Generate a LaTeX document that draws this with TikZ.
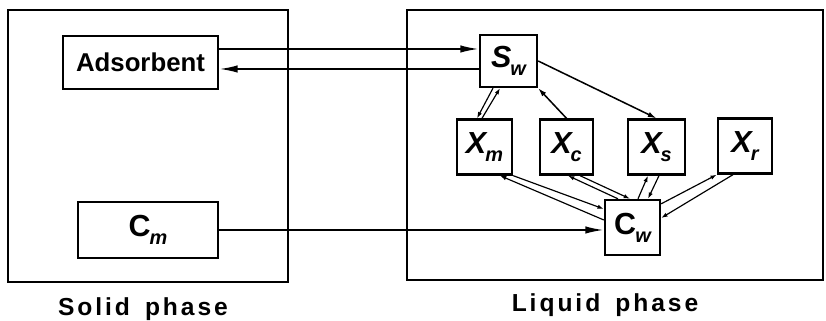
\documentclass[tikz,border=0pt]{standalone}
\usepackage{fontspec}
\setmainfont{Liberation Sans}
\setsansfont{Liberation Sans}
\newfontfamily\phasefont[LetterSpace=12]{Liberation Sans}
\usetikzlibrary{arrows.meta,positioning,calc}
\newcommand{\vsub}[2]{#1\kern-0.03em\raisebox{-0.5ex}{\fontsize{17}{17}\selectfont\itshape #2}}

\begin{document}
\begin{tikzpicture}[x=0.03cm,y=0.03cm,
frame/.style={draw,line width=2.2pt,inner sep=0pt},
box/.style={draw,line width=2pt,inner sep=0pt,font=\fontsize{22}{26}\selectfont\bfseries},
var/.style={box,minimum width=1.65cm,minimum height=1.65cm,font=\fontsize{26}{30}\selectfont\bfseries},
phase/.style={inner sep=0pt,font=\fontsize{21}{25}\selectfont\phasefont\bfseries},
bigarrow/.style={-{Latex[length=5.5mm,width=2.2mm]},line width=1.6pt},
arrow/.style={-{Latex[length=2.6mm,width=1.6mm]},line width=1.3pt},
pair/.style={-{Latex[length=1.9mm,width=1.3mm]},line width=1pt}
]
\useasboundingbox (0,0) rectangle (826,321);
% phases
\node[frame,minimum width=8.4cm,minimum height=8.16cm] (solid) at (148,175) {};
\node[frame,minimum width=12.48cm,minimum height=8.1cm] (liquid) at (615,176) {};
\node[phase,below=0.42cm of solid,xshift=-0.15cm] (solidlbl) {Solid\hspace{0.45cm}phase};
\node[phase,below=0.36cm of liquid,xshift=-0.3cm] (liquidlbl) {Liquid\hspace{0.45cm}phase};
% solid phase
\node[box,minimum width=4.65cm,minimum height=1.59cm] (adsorbent) at (140.5,258.5) {Adsorbent};
\node[box,minimum width=4.2cm,minimum height=1.68cm,font=\fontsize{26}{30}\selectfont\bfseries] (cm) at (148,91) {\vsub{C}{m}};
% liquid phase
\node[var,minimum width=1.71cm,minimum height=1.56cm] (sw) at (508.5,260) {\vsub{\itshape S}{w}};
\node[var] (xm) at (484.5,174) {\vsub{\itshape X}{m}};
\node[var,minimum width=1.59cm] (xc) at (566.5,174) {\vsub{\itshape X}{c}};
\node[var,minimum width=1.71cm] (xs) at (656.5,174) {\vsub{\itshape X}{s}};
\node[var,minimum width=1.62cm] (xr) at (745,175) {\vsub{\itshape X}{r}};
\node[var] (cw) at (632.5,93.5) {\vsub{C}{w}};
% between phases
\draw[bigarrow] ($(adsorbent.east)+(0,13.5)$) -- ($(adsorbent.east -| sw.west)+(0,13.5)$);
\draw[bigarrow] ($(adsorbent.east -| sw.west)+(0,-6.5)$) -- ($(adsorbent.east)+(0,-6.5)$);
\draw[bigarrow] (cm.east) -- (cm.east -| cw.west);
% inside liquid phase
\draw[arrow] (sw.east) -- (xs.north);
\draw[arrow] (xc.north) -- (sw.south east);
\draw[pair] ($(sw.south)+(-15.5,0)$) -- ($(xm.north)+(-7.5,0)$);
\draw[pair] ($(xm.north)+(-2.5,0)$) -- ($(sw.south)+(-8.5,0)$);
\draw[pair] (xm.south east) -- ($(cw.west)+(0,18.5)$);
\draw[pair] ($(cw.west)+(0,7.5)$) -- ($(xm.south)+(15.5,0)$);
\draw[pair] ($(cw.north)+(-14.5,0)$) -- ($(xc.south)+(1.5,0)$);
\draw[pair] ($(xc.south)+(13.5,0)$) -- ($(cw.north)+(-2.5,0)$);
\draw[pair] ($(cw.north)+(5.5,0)$) -- ($(xs.south)+(-8.5,0)$);
\draw[pair] ($(xs.south)+(2.5,0)$) -- ($(cw.north)+(15.5,0)$);
\draw[pair] ($(cw.north east)+(0,-5)$) -- (xr.south west);
\draw[pair] ($(xr.south)+(-12,0)$) -- ($(cw.east)+(0,9.5)$);
\end{tikzpicture}
\end{document}
